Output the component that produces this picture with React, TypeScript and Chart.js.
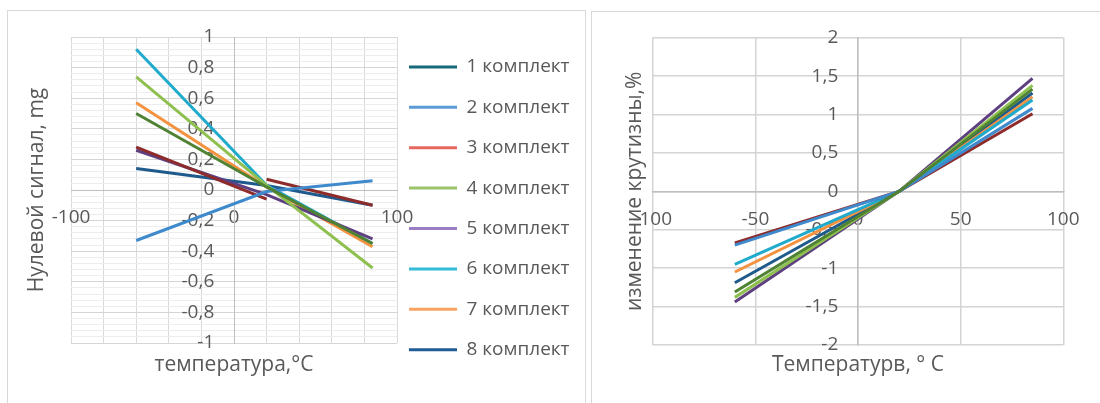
import React, { useEffect, useRef } from "react";
import { Chart, registerables } from "chart.js";

Chart.register(...registerables);

const FONT = "'Open Sans', sans-serif";
const TEXT_COLOR = "#595959";

const seriesNames = [
  "1 комплект", "2 комплект", "3 комплект", "4 комплект",
  "5 комплект", "6 комплект", "7 комплект", "8 комплект",
];
const lineColors = ["#4F8233", "#3E8ACC", "#8E2B2B", "#8EC04F", "#5E3F80", "#20AACB", "#F5923F", "#1F5A8C"];
const legendColors = ["#17697A", "#5B9BD5", "#E5685F", "#9BC46A", "#9B7DC2", "#33BBD8", "#F9A261", "#1F5B96"];

// Left chart: zero signal, mg vs temperature
const zeroTemp = [-60, 20, 85];
const zeroTemp3 = [-60, 20, 20, 20, 85];
const zero1 = [0.5, 0.02, -0.35];
const zero2 = [-0.33, -0.01, 0.06];
const zero3 = [0.28, -0.06, null, 0.07, -0.1];
const zero4 = [0.74, 0.03, -0.51];
const zero5 = [0.26, -0.03, -0.32];
const zero6 = [0.92, 0.03, -0.35];
const zero7 = [0.57, 0.02, -0.37];
const zero8 = [0.14, 0.03, -0.1];

// Right chart: slope change, % vs temperature
const slopeTemp = [-60, 20, 85];
const slope1 = [-1.31, 0, 1.33];
const slope2 = [-0.7, 0, 1.08];
const slope3 = [-0.67, 0, 1.01];
const slope4 = [-1.38, 0, 1.38];
const slope5 = [-1.44, 0, 1.47];
const slope6 = [-0.95, 0, 1.19];
const slope7 = [-1.05, 0, 1.23];
const slope8 = [-1.19, 0, 1.28];

// Tick values
const leftXGrid = [-100, -80, -60, -40, -20, 0, 20, 40, 60, 80, 100];
const leftXLabels = [-100, 0, 100];
const leftYMajor = [-1, -0.8, -0.6, -0.4, -0.2, 0, 0.2, 0.4, 0.6, 0.8, 1];
const leftYMinorStep = 0.04;
const rightXTicks = [-100, -50, 0, 50, 100];
const rightYTicks = [-2, -1.5, -1, -0.5, 0, 0.5, 1, 1.5, 2];

const fmt = (v: number) => String(Math.round(v * 10) / 10).replace(".", ",");
const Y_GAP = "    ";
const isMajorY = (v: any) => typeof v === "number" && leftYMajor.some((m) => Math.abs(m - v) < 1e-6);

const toPoints = (xs: number[], ys: (number | null)[]) => xs.map((x, i) => ({ x, y: ys[i] }));

const tickFont = { family: FONT, size: 19 };
const titleFont = { family: FONT, size: 21 };

function makeDatasets(series: { t: number[]; v: (number | null)[] }[]) {
  return series.map((s, i) => ({
    label: seriesNames[i],
    data: toPoints(s.t, s.v),
    borderColor: lineColors[i],
    backgroundColor: lineColors[i],
    borderWidth: 3,
    pointRadius: 0,
    tension: 0,
    spanGaps: false,
    xAxisID: "x",
    yAxisID: "y",
  }));
}

export default function App() {
  const leftRef = useRef<HTMLCanvasElement>(null);
  const rightRef = useRef<HTMLCanvasElement>(null);

  useEffect(() => {
    const charts: Chart[] = [];
    const leftSeries = [
      { t: zeroTemp, v: zero1 }, { t: zeroTemp, v: zero2 }, { t: zeroTemp3, v: zero3 }, { t: zeroTemp, v: zero4 },
      { t: zeroTemp, v: zero5 }, { t: zeroTemp, v: zero6 }, { t: zeroTemp, v: zero7 }, { t: zeroTemp, v: zero8 },
    ];
    const rightSeries = [
      { t: slopeTemp, v: slope1 }, { t: slopeTemp, v: slope2 }, { t: slopeTemp, v: slope3 }, { t: slopeTemp, v: slope4 },
      { t: slopeTemp, v: slope5 }, { t: slopeTemp, v: slope6 }, { t: slopeTemp, v: slope7 }, { t: slopeTemp, v: slope8 },
    ];
    const leftYTicks = Array.from({ length: 51 }, (_, i) => Math.round((-1 + i * leftYMinorStep) * 100) / 100);

    // legend geometry: chart area right edge at 389 (canvas px)
    const mctx = document.createElement("canvas").getContext("2d");
    let tw = 102;
    if (mctx) {
      mctx.font = `19px ${FONT}`;
      tw = Math.max(...seriesNames.map((n) => mctx.measureText(n).width));
    }
    const legendPad = 12;
    const legendBox = 48;
    const legendW = legendPad + legendBox + 19 / 2 + tw + 10;
    const leftPadRight = 577 - 389 - legendW;

    const dummyAxis = (axis: "x" | "y", position: string, text: string, pad: { top: number; bottom: number }) => ({
      type: "linear",
      axis,
      position,
      display: true,
      min: 0,
      max: 1,
      grid: { display: false, drawTicks: false },
      border: { display: false },
      ticks: { display: false },
      title: { display: true, text, color: TEXT_COLOR, font: titleFont, padding: pad },
    });

    if (leftRef.current) {
      charts.push(
        new Chart(leftRef.current, {
          type: "line",
          data: { datasets: makeDatasets(leftSeries) as any },
          options: {
            responsive: false,
            animation: false,
            devicePixelRatio: 1,
            events: [],
            layout: { padding: { left: 0, right: leftPadRight, top: 26, bottom: 0 } },
            plugins: {
              tooltip: { enabled: false },
              legend: {
                display: true,
                position: "right",
                align: "center",
                maxWidth: legendW + 2,
                labels: {
                  boxWidth: legendBox,
                  boxHeight: 3,
                  padding: legendPad,
                  color: TEXT_COLOR,
                  textAlign: "left",
                  font: { family: FONT, size: 19, lineHeight: 28.4 / 19 },
                  generateLabels: () =>
                    seriesNames.map((name, i) => ({
                      text: [name] as any,
                      fillStyle: legendColors[i],
                      strokeStyle: legendColors[i],
                      lineWidth: 0,
                      hidden: false,
                      datasetIndex: i,
                      fontColor: TEXT_COLOR,
                    })),
                },
              } as any,
            },
            scales: {
              x: {
                type: "linear",
                axis: "x",
                position: { y: 0 },
                min: -100,
                max: 100,
                afterBuildTicks: (s: any) => { s.ticks = leftXGrid.map((v) => ({ value: v })); },
                ticks: {
                  autoSkip: false,
                  maxRotation: 0,
                  padding: 16,
                  color: TEXT_COLOR,
                  font: tickFont,
                  callback: (v: any) => (leftXLabels.includes(v) ? fmt(v) : ""),
                },
                grid: { color: "#d9d9d9", drawTicks: false, lineWidth: 1 },
                border: { color: "#bfbfbf", width: 1 },
              },
              y: {
                type: "linear",
                axis: "y",
                position: { x: 0 },
                min: -1,
                max: 1,
                afterBuildTicks: (s: any) => { s.ticks = leftYTicks.map((v) => ({ value: v })); },
                ticks: {
                  autoSkip: false,
                  padding: 0,
                  color: TEXT_COLOR,
                  font: tickFont,
                  callback: (v: any) => (isMajorY(v) ? fmt(v) + Y_GAP : ""),
                },
                grid: {
                  color: (c: any) => (isMajorY(c.tick && c.tick.value) ? "#d6d6d6" : "#ededed"),
                  drawTicks: false,
                  lineWidth: 1,
                },
                border: { color: "#bfbfbf", width: 1 },
              },
              yt: dummyAxis("y", "left", "Нулевой сигнал, mg", { top: 16.4, bottom: 21.4 }),
              xt: dummyAxis("x", "bottom", "температура,°C", { top: 9.4, bottom: 11.4 }),
            } as any,
          },
        })
      );
    }

    if (rightRef.current) {
      charts.push(
        new Chart(rightRef.current, {
          type: "line",
          data: { datasets: makeDatasets(rightSeries) as any },
          options: {
            responsive: false,
            animation: false,
            devicePixelRatio: 1,
            events: [],
            layout: { padding: { left: 0, right: 36.7, top: 25.7, bottom: 0 } },
            plugins: { tooltip: { enabled: false }, legend: { display: false } },
            scales: {
              x: {
                type: "linear",
                axis: "x",
                position: { y: 0 },
                min: -100,
                max: 100,
                afterBuildTicks: (s: any) => { s.ticks = rightXTicks.map((v) => ({ value: v })); },
                ticks: {
                  autoSkip: false,
                  maxRotation: 0,
                  padding: 17,
                  color: TEXT_COLOR,
                  font: tickFont,
                  callback: (v: any) => fmt(v),
                },
                grid: { color: "#d4d4d4", drawTicks: false, lineWidth: 1.5 },
                border: { color: "#bfbfbf", width: 1.5 },
              },
              y: {
                type: "linear",
                axis: "y",
                position: { x: 0 },
                min: -2,
                max: 2,
                afterBuildTicks: (s: any) => { s.ticks = rightYTicks.map((v) => ({ value: v })); },
                ticks: {
                  autoSkip: false,
                  padding: 0,
                  color: TEXT_COLOR,
                  font: tickFont,
                  callback: (v: any) => fmt(v) + Y_GAP,
                },
                grid: { color: "#d4d4d4", drawTicks: false, lineWidth: 1.5 },
                border: { color: "#bfbfbf", width: 1.5 },
              },
              yt: dummyAxis("y", "left", "изменение крутизны,%", { top: 30.4, bottom: 5.1 }),
              xt: dummyAxis("x", "bottom", "Температурв, ° С", { top: 7.4, bottom: 12.4 }),
            } as any,
          },
        })
      );
    }

    return () => charts.forEach((c) => c.destroy());
  }, []);

  const boxStyle = (left: number, top: number, width: number): React.CSSProperties => ({
    position: "fixed",
    left,
    top,
    width,
    height: 420,
    border: "1px solid #d9d9d9",
    boxSizing: "border-box",
    background: "#ffffff",
  });

  return (
    <div>
      <div style={boxStyle(7, 10, 579)} />
      <div style={boxStyle(591, 11, 530)} />
      <canvas ref={leftRef} width={577} height={378} style={{ position: "fixed", left: 8, top: 11 }} />
      <canvas ref={rightRef} width={508} height={378} style={{ position: "fixed", left: 592, top: 12 }} />
    </div>
  );
}
